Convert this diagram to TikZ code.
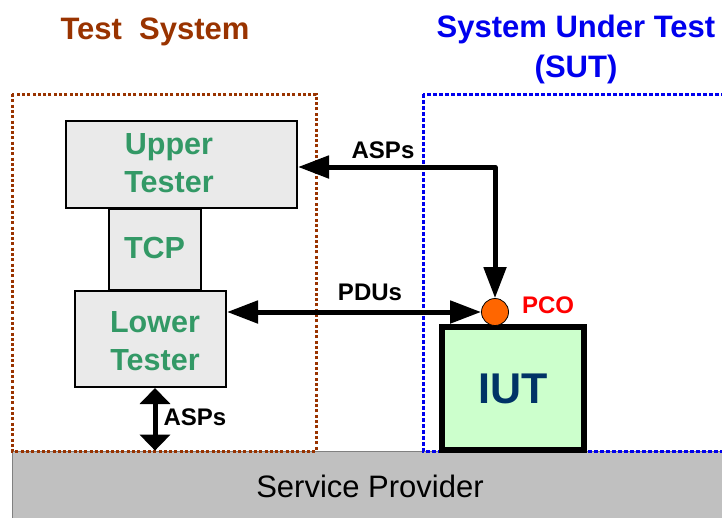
\documentclass[tikz,border=0pt]{standalone}
\usepackage{fontspec}
\setmainfont{Liberation Sans}
\usetikzlibrary{arrows.meta}
\definecolor{tsbrown}{HTML}{993300}
\definecolor{sutblue}{HTML}{0000EE}
\definecolor{tgreen}{HTML}{339966}
\definecolor{boxgray}{HTML}{EAEAEA}
\definecolor{spgray}{HTML}{C0C0C0}
\definecolor{iutfill}{HTML}{CCFFCC}
\definecolor{iuttext}{HTML}{003366}
\definecolor{pcofill}{HTML}{FF6600}
\tikzset{
  tbox/.style={draw=black, line width=2pt, fill=boxgray, inner sep=0pt},
  ttext/.style={align=center, inner sep=0pt, text=tgreen, font=\fontsize{30.5}{38}\selectfont\bfseries},
  title/.style={align=center, inner sep=0pt, font=\fontsize{31}{40}\selectfont\bfseries},
  lbl/.style={font=\fontsize{24}{28}\selectfont\bfseries, inner sep=0pt},
  bigarrow/.style={line width=5pt, line join=round, {Triangle[length=31pt,width=22pt]}-{Triangle[length=31pt,width=22pt]}},
  shortarrow/.style={line width=5pt, {Triangle[length=16pt,width=30pt]}-{Triangle[length=16pt,width=30pt]}},
}
\begin{document}
\begin{tikzpicture}[x=1pt,y=-1pt]
\useasboundingbox (0,0) rectangle (722,517);
\clip (0,0) rectangle (722,517);
% titles
\node[title, text=tsbrown] (tstitle) at (155,32) {Test\ \ System};
\node[title, text=sutblue] (suttitle) at (576,49) {System Under Test\\(SUT)};
% service provider
\node[draw=gray, line width=0.8pt, fill=spgray, minimum width=716pt, minimum height=70pt,
  inner sep=0pt, font=\fontsize{31}{36}\selectfont] (sp) at (370,486) {Service Provider};
% frames
\draw[tsbrown, line width=3pt, dash pattern=on 3pt off 2.3pt] (12,94) rectangle (316,451);
\draw[sutblue, line width=3pt, dash pattern=on 4pt off 2pt] (423,94) rectangle (760,451);
% tester boxes
\node[tbox, minimum width=231pt, minimum height=87pt] (upper) at (181.5,164.5) {};
\node[tbox, minimum width=92pt, minimum height=81pt] (tcp) at (155,249.5) {};
\node[tbox, minimum width=151pt, minimum height=96pt] (lower) at (150.5,339) {};
\node[ttext] (uppertxt) at (169,163) {Upper\\Tester};
\node[ttext] (tcptxt) at (154.5,248) {TCP};
\node[ttext] (lowertxt) at (155,341.5) {Lower\\Tester};
% IUT
\node[draw=black, line width=6pt, fill=iutfill, minimum width=142pt, minimum height=123pt,
  inner sep=0pt, text=iuttext, font=\fontsize{43}{48}\selectfont\bfseries] (iut) at (513,388.5) {IUT};
% PCO
\node[circle, draw=black, line width=0.8pt, fill=pcofill, minimum size=27pt, inner sep=0pt] (pco) at (495,312) {};
\node[lbl, text=red] (pcolbl) at (548,305) {PCO};
% arrows
\coordinate (corner) at (495,167);
\draw[bigarrow] (upper.east |- corner) -- (corner) -- (pco.north);
\draw[bigarrow] (pco.west -| lower.east) -- (pco.west);
\draw[shortarrow] ([xshift=4.5pt]lower.south) -- ([xshift=4.5pt]lower.south |- sp.north);
% labels
\node[lbl] (asp1) at (383,150) {ASPs};
\node[lbl] (pdus) at (370,292) {PDUs};
\node[lbl] (asp2) at (195,417) {ASPs};
\end{tikzpicture}
\end{document}
